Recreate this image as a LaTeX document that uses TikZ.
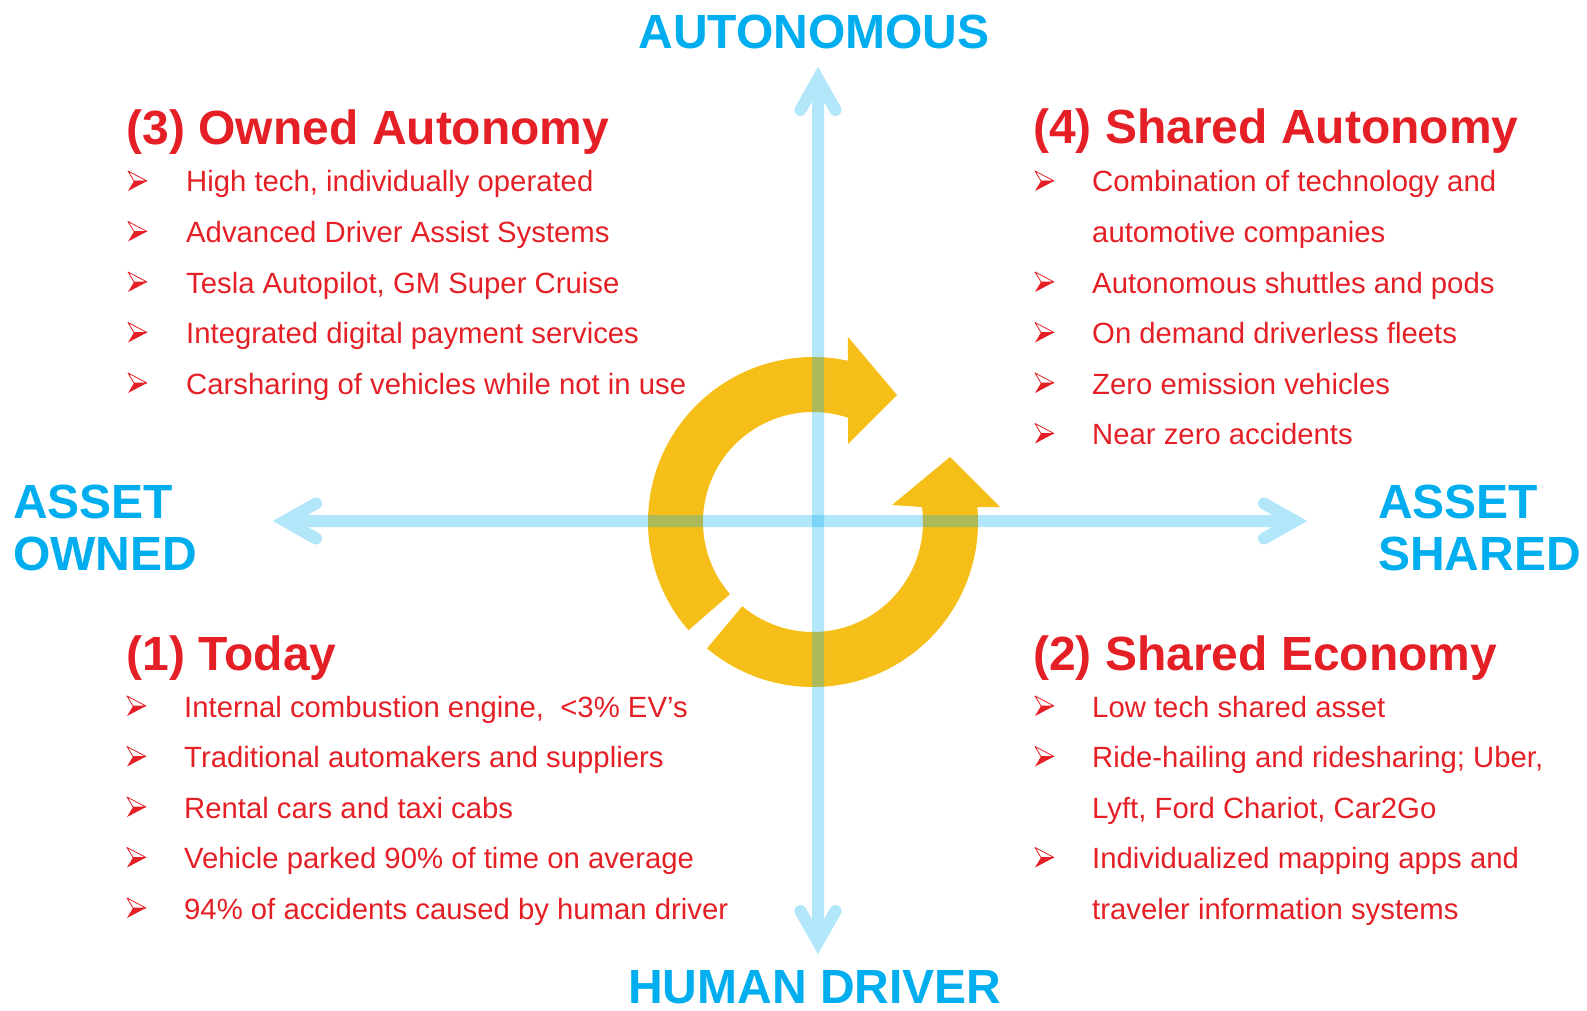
\documentclass[tikz,border=0pt]{standalone}
\usepackage{fontspec}
\setmainfont{Liberation Sans}
\usetikzlibrary{calc}

\definecolor{txtred}{RGB}{228,32,38}
\definecolor{axblue}{RGB}{0,174,239}
\definecolor{ringyel}{RGB}{246,190,24}

\tikzset{
  ttl/.style={anchor=base west, inner sep=0pt, text=txtred,
              font=\fontsize{48}{50}\selectfont\bfseries},
  itm/.style={anchor=base west, inner sep=0pt, text=txtred,
              font=\fontsize{29.3}{35}\selectfont},
  axl/.style={anchor=base west, inner sep=0pt, text=axblue,
              font=\fontsize{48}{50}\selectfont\bfseries},
  axlc/.style={axl, anchor=base},
  axisline/.style={draw=axblue, draw opacity=0.3, line width=12pt,
                   line cap=round, line join=miter},
  ring/.style={fill=ringyel},
  % 3D arrowhead bullet: light upper face, solid lower face
  bul/.pic={
    \filldraw[draw=txtred, fill=white, line width=0.8pt, line join=round]
      (0,10) -- (19,0) -- (6,0) -- cycle;
    \fill[txtred] (6,0) -- (19,0) -- (0,-10) -- cycle;
  }
}

\begin{document}
\begin{tikzpicture}[x=1pt, y=1pt]
\useasboundingbox (0,0) rectangle (1587,-1011);

% ---------- cycle arrows ----------
\coordinate (C) at (813,-522);
\fill[ring] ([shift={(C)}]221:165) arc[start angle=221, end angle=77.8, radius=165]
  -- (848,-337) -- (897,-395) -- (848,-444)
  -- ([shift={(C)}]71.4:110) arc[start angle=71.4, end angle=221, radius=110] -- cycle;
\fill[ring] ([shift={(C)}]230:165) arc[start angle=230, end angle=365.2, radius=165]
  -- (1000,-507) -- (950,-457) -- (892,-505)
  -- ([shift={(C)}]7.8:110) arc[start angle=7.8, end angle=-130, radius=110] -- cycle;

% ---------- axes ----------
\coordinate (N) at (818,-67);
\coordinate (S) at (818,-954);
\coordinate (W) at (273,-521);
\coordinate (E) at (1307,-521);

\draw[axisline]
  ($(N)+(-17.5,-43)$) -- ($(N)+(0,-12)$) -- ($(N)+(17.5,-43)$)
  ($(N)+(0,-20)$) -- ($(S)+(0,20)$)
  ($(S)+(-17.5,43)$) -- ($(S)+(0,12)$) -- ($(S)+(17.5,43)$);
\draw[axisline]
  ($(W)+(43,17.5)$) -- ($(W)+(12,0)$) -- ($(W)+(43,-17.5)$)
  ($(W)+(20,0)$) -- ($(E)+(-20,0)$)
  ($(E)+(-43,17.5)$) -- ($(E)+(-12,0)$) -- ($(E)+(-43,-17.5)$);

% ---------- axis labels ----------
\node[axlc] (auto) at (814,-49) {AUTONOMOUS};
\node[axlc] (human) at (815,-1003) {HUMAN DRIVER};
\node[axl] (own1) at (13,-518) {ASSET};
\node[axl] (own2) at (13,-570) {OWNED};
\node[axl] (shr1) at (1378,-518) {ASSET};
\node[axl] (shr2) at (1378,-570) {SHARED};

% ---------- (3) Owned Autonomy ----------
\node[ttl] (q3) at (126.5,-145) {(3) Owned Autonomy};
\foreach \t [count=\i from 0] in {High tech{,} individually operated,
    Advanced Driver Assist Systems,
    Tesla Autopilot{,} GM Super Cruise,
    Integrated digital payment services,
    Carsharing of vehicles while not in use}{
  \pic at (128,{-192+11-50.5*\i}) {bul};
  \node[itm] (q3-\i) at (186,{-192-50.5*\i}) {\t};
}

% ---------- (4) Shared Autonomy ----------
\node[ttl] (q4) at (1033,-144) {(4) Shared Autonomy};
\foreach \t/\r/\b [count=\i] in {
    Combination of technology and/0/1,
    automotive companies/1/0,
    Autonomous shuttles and pods/2/1,
    On demand driverless fleets/3/1,
    Zero emission vehicles/4/1,
    Near zero accidents/5/1}{
  \ifnum\b=1 \pic at (1035,{-192+11-50.5*\r}) {bul}; \fi
  \node[itm] (q4-\i) at (1092,{-192-50.5*\r}) {\t};
}

% ---------- (1) Today ----------
\node[ttl] (q1) at (126.5,-670) {(1) Today};
\foreach \t [count=\i from 0] in {Internal combustion engine{,}\ \ <3\% EV’s,
    Traditional automakers and suppliers,
    Rental cars and taxi cabs,
    Vehicle parked 90\% of time on average,
    94\% of accidents caused by human driver}{
  \pic at (127,{-717+11-50.5*\i}) {bul};
  \node[itm] (q1-\i) at (184,{-717-50.5*\i}) {\t};
}

% ---------- (2) Shared Economy ----------
\node[ttl] (q2) at (1033,-670) {(2) Shared Economy};
\foreach \t/\r/\b [count=\i] in {
    Low tech shared asset/0/1,
    Ride-hailing and ridesharing; Uber{,}/1/1,
    Lyft{,} Ford Chariot{,} Car2Go/2/0,
    Individualized mapping apps and/3/1,
    traveler information systems/4/0}{
  \ifnum\b=1 \pic at (1035,{-717+11-50.5*\r}) {bul}; \fi
  \node[itm] (q2-\i) at (1092,{-717-50.5*\r}) {\t};
}
\end{tikzpicture}
\end{document}
